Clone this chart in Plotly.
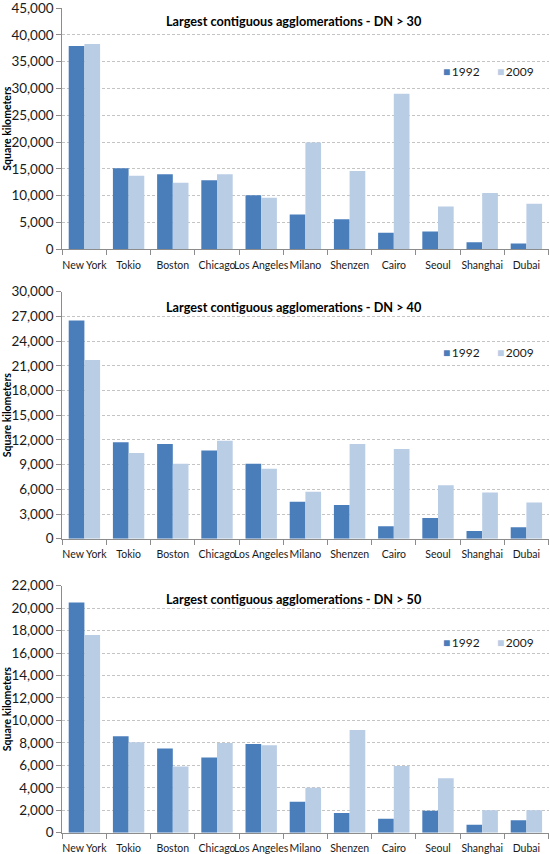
import plotly.graph_objects as go

cities = ["New York", "Tokio", "Boston", "Chicago", "Los Angeles", "Milano",
          "Shenzen", "Cairo", "Seoul", "Shanghai", "Dubai"]

# square kilometers
dn30_1992 = [37900, 15100, 14000, 12900, 10100, 6500, 5600, 3100, 3300, 1300, 1100]
dn30_2009 = [38300, 13700, 12400, 14000, 9600, 19900, 14600, 29000, 8000, 10500, 8500]

dn40_1992 = [26500, 11700, 11500, 10700, 9100, 4500, 4100, 1500, 2500, 950, 1400]
dn40_2009 = [21700, 10400, 9100, 11900, 8500, 5700, 11500, 10900, 6500, 5600, 4400]

dn50_1992 = [20500, 8600, 7500, 6700, 7900, 2750, 1750, 1250, 1950, 700, 1100]
dn50_2009 = [17600, 8050, 5900, 8000, 7800, 4000, 9150, 5950, 4850, 2000, 2000]

years = ["1992", "2009"]
titles = ["Largest contiguous agglomerations - DN > 30",
          "Largest contiguous agglomerations - DN > 40",
          "Largest contiguous agglomerations - DN > 50"]
y_max = [45000, 30000, 22000]
y_step = [5000, 3000, 2000]

c1992 = "#4a7ebb"
c2009 = "#b9cde5"
axis_col = "#8c8c8c"
grid_col = "#c4c4c4"
FONT = "Lato"

W, H = 550, 854
# plot areas in pixels: (top, bottom)
panels_px = [(8, 249.3), (291.7, 538.7), (585.7, 832.7)]
x_left, x_right = 62.3, 548.5
legend_y = [72, 352.7, 642]
title_y = [21.5, 306.7, 599.3]

series = [(dn30_1992, dn30_2009), (dn40_1992, dn40_2009), (dn50_1992, dn50_2009)]

fig = go.Figure()
annotations = []

for i, (a, b) in enumerate(series):
    sfx = "" if i == 0 else str(i + 1)
    for name, vals, col in zip(years, (a, b), (c1992, c2009)):
        fig.add_trace(go.Bar(x=cities, y=vals, name=name, marker_color=col,
                             marker_line_width=0, xaxis="x" + sfx, yaxis="y" + sfx,
                             showlegend=False, hoverinfo="x+y+name"))

    top, bot = panels_px[i]
    fig.update_layout({
        "xaxis" + sfx: dict(domain=[x_left / W, x_right / W], anchor="y" + sfx,
                            showline=True, linecolor=axis_col, linewidth=1,
                            ticks="outside", tickson="boundaries", ticklen=5,
                            tickcolor=axis_col, showgrid=False, tickangle=0,
                            ticklabelstandoff=6,
                            tickfont=dict(family=FONT, size=10.5, color="#1a1a1a")),
        "yaxis" + sfx: dict(domain=[1 - bot / H, 1 - top / H], anchor="x" + sfx,
                            range=[0, y_max[i]], dtick=y_step[i], tick0=0,
                            tickformat=",", showline=True, linecolor=axis_col,
                            linewidth=1, ticks="outside", ticklen=5,
                            tickcolor=axis_col, showgrid=True, gridcolor=grid_col,
                            griddash="3px,2px", gridwidth=1, zeroline=False,
                            ticklabeloverflow="allow",
                            tickfont=dict(family=FONT, size=13.5, color="#1a1a1a")),
    })

    # legend drawn as two coloured squares + labels, like the original
    for lx, name, col in ((441, years[0], c1992), (495, years[1], c2009)):
        annotations.append(dict(xref="paper", yref="paper", x=lx / W,
                                y=1 - legend_y[i] / H, xanchor="left", yanchor="middle",
                                text=f'<span style="color:{col}">■</span>\u2009{name}',
                                showarrow=False,
                                font=dict(family=FONT, size=12, color="#1a1a1a")))

    annotations.append(dict(xref="paper", yref="paper", x=293.5 / W,
                            y=1 - title_y[i] / H, xanchor="center", yanchor="middle",
                            text="<b>" + titles[i] + "</b>", showarrow=False,
                            font=dict(family=FONT, size=12.7, color="#000000")))
    annotations.append(dict(xref="paper", yref="paper", x=7 / W,
                            y=1 - (top + bot) / 2 / H, xanchor="center",
                            yanchor="middle", textangle=-90,
                            text="<b>Square kilometers</b>", showarrow=False,
                            font=dict(family=FONT, size=10.5, color="#000000")))

fig.update_layout(
    width=W, height=H,
    margin=dict(l=0, r=0, t=0, b=0, autoexpand=False),
    barmode="group", bargap=0.29, bargroupgap=0,
    plot_bgcolor="white", paper_bgcolor="white",
    annotations=annotations,
)

fig.write_html("out.html", config={"displayModeBar": False},
               post_script="document.body.style.margin='0px';"
                           "document.body.style.overflow='hidden';")
